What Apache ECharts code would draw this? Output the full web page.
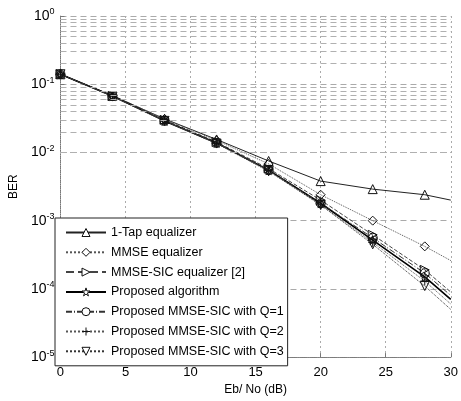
<!DOCTYPE html>
<html>
<head>
<meta charset="utf-8">
<script src="https://cdn.jsdelivr.net/npm/echarts@6/dist/echarts.min.js"></script>
<style>
  html, body { margin: 0; padding: 0; background: #fff; }
  #chart { width: 461px; height: 401px; }
</style>
</head>
<body>
<div id="chart"></div>
<script>
// Eb/No points (dB)
var ebno = [0, 4, 8, 12, 16, 20, 24, 28, 30];

// BER values
var berOneTap   = [0.14, 0.068, 0.031, 0.0155, 0.0075, 0.0038, 0.0029, 0.0024, 0.002];
var berMmse     = [0.14, 0.068, 0.031, 0.015, 0.0068, 0.0024, 0.001, 0.00042, 0.00026];
var berMmseSic  = [0.14, 0.067, 0.030, 0.0142, 0.0058, 0.0020, 0.00062, 0.00019, 0.00009];
var berProposed = [0.14, 0.067, 0.029, 0.0138, 0.0055, 0.0018, 0.00052, 0.00015, 0.00007];
var berQ1       = [0.14, 0.067, 0.029, 0.0138, 0.0055, 0.0018, 0.00056, 0.00017, 0.00008];
var berQ2       = [0.14, 0.067, 0.029, 0.0136, 0.0054, 0.0017, 0.00048, 0.00013, 0.00006];
var berQ3       = [0.14, 0.066, 0.029, 0.0135, 0.0053, 0.0017, 0.00045, 0.00011, 0.00005];

var xTicks = [0, 5, 10, 15, 20, 25, 30];
var names = ['1-Tap equalizer', 'MMSE equalizer', 'MMSE-SIC equalizer [2]', 'Proposed algorithm',
             'Proposed MMSE-SIC with Q=1', 'Proposed MMSE-SIC with Q=2', 'Proposed MMSE-SIC with Q=3'];

var starPath = 'path://M50,0 L61,35 L98,35 L68,57 L79,91 L50,70 L21,91 L32,57 L2,35 L39,35 Z';
var plusPath = 'path://M50,0 L50,100 M0,50 L100,50';

// minor log grid levels 2..9 x 10^k
var minorLevels = [];
for (var k = -5; k <= -1; k++) {
  for (var m = 2; m <= 9; m++) minorLevels.push(m * Math.pow(10, k));
}

function pts(vals) {
  return ebno.map(function (x, i) {
    // last point (30 dB) is drawn without a marker
    if (x === 30) return { value: [x, vals[i]], symbol: 'none' };
    return [x, vals[i]];
  });
}

function mk(name, vals, symbol, rot, lineType, color, width) {
  return {
    name: name,
    type: 'line',
    data: pts(vals),
    symbol: symbol,
    symbolSize: 9,
    symbolRotate: rot,
    z: 3,
    lineStyle: { color: color, width: width, type: lineType },
    itemStyle: { color: 'rgba(255,255,255,0)', borderColor: '#111', borderWidth: 1 }
  };
}

var chart = echarts.init(document.getElementById('chart'));
chart.setOption({
  animation: false,
  backgroundColor: '#fff',
  textStyle: { fontFamily: 'Liberation Sans, Arial, sans-serif' },
  grid: { left: 52, right: 5, top: 16, bottom: 41 },
  xAxis: {
    type: 'value',
    min: 0, max: 30, interval: 5,
    name: 'Eb/ No (dB)',
    nameLocation: 'middle',
    nameGap: 24,
    nameTextStyle: { fontSize: 12, color: '#000' },
    axisLine: { lineStyle: { color: '#777', type: 'dotted' } },
    axisTick: { inside: true, length: 4, lineStyle: { color: '#777' } },
    axisLabel: { fontSize: 13, color: '#000', margin: 9,
      formatter: function (v) { return xTicks.indexOf(v) >= 0 ? String(v) : ''; } },
    splitLine: { show: true, lineStyle: { color: '#aaa', type: [2, 3] } }
  },
  yAxis: {
    type: 'log',
    logBase: 10,
    min: 1e-5, max: 1,
    name: 'BER',
    nameLocation: 'middle',
    nameGap: 40,
    nameRotate: 90,
    nameTextStyle: { fontSize: 12, color: '#000' },
    axisLine: { show: true, lineStyle: { color: '#777', type: 'dotted' } },
    axisTick: { inside: true, length: 4, lineStyle: { color: '#777' } },
    axisLabel: {
      margin: 6,
      formatter: function (v) {
        var e = Math.round(Math.log10(v));
        return '{b|10}{s|' + e + '}';
      },
      rich: {
        b: { fontSize: 14, color: '#000' },
        s: { fontSize: 9, color: '#000', verticalAlign: 'top', padding: [0, 0, 8, 0] }
      }
    },
    splitLine: { show: true, lineStyle: { color: '#aaa', type: [6, 4] } }
  },
  legend: {
    data: names,
    orient: 'vertical',
    left: 55, top: 218,
    itemWidth: 40, itemHeight: 10, itemGap: 6.8,
    padding: [8, 4, 8, 10],
    backgroundColor: '#fff',
    borderColor: '#222', borderWidth: 1, borderRadius: 0,
    itemStyle: { color: '#fff', borderColor: '#111', borderWidth: 1 },
    textStyle: { fontSize: 12.5, color: '#000' },
    z: 10
  },
  series: [
    {
      name: 'grid', type: 'line', data: [], silent: true,
      markLine: {
        silent: true, symbol: 'none', label: { show: false },
        lineStyle: { color: '#b0b0b0', type: [6, 4], width: 1 },
        data: minorLevels.map(function (v) { return { yAxis: v }; })
      }
    },
    mk(names[0], berOneTap, 'triangle', 0, 'solid', '#222', 1),
    mk(names[1], berMmse, 'diamond', 0, 'dotted', '#555', 1),
    mk(names[2], berMmseSic, 'triangle', -90, 'dashed', '#444', 1),
    mk(names[3], berProposed, starPath, 0, 'solid', '#000', 1.6),
    mk(names[4], berQ1, 'circle', 0, [6, 2, 1, 2], '#333', 1),
    mk(names[5], berQ2, plusPath, 0, 'dotted', '#555', 1),
    mk(names[6], berQ3, 'triangle', 180, 'dotted', '#333', 1)
  ]
});
</script>
</body>
</html>
